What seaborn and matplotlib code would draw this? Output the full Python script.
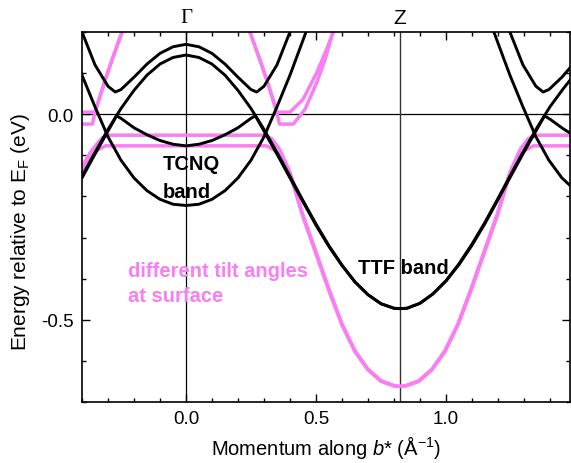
import matplotlib
matplotlib.use("Agg")
import matplotlib.pyplot as plt
import matplotlib.transforms as mtransforms
from matplotlib.ticker import MultipleLocator
import seaborn as sns

# -----------------------------
# BAND DATA
# k in 1/Angstrom, E in eV relative to E_F
# -----------------------------

k_gamma = 0.0
k_z = 0.823

# TTF band (inner dome at Gamma, minimum at Z)
k_ttf = [-0.40, -0.35, -0.30, -0.25, -0.20, -0.15, -0.10, -0.05, 0.00, 0.05, 0.10, 0.15,
         0.20, 0.25, 0.30, 0.35, 0.40, 0.45, 0.50, 0.55, 0.60, 0.65, 0.70, 0.75, 0.80, 0.823,
         0.85, 0.90, 0.95, 1.00, 1.05, 1.10, 1.15, 1.20, 1.25, 1.30, 1.35, 1.40, 1.45, 1.48]
e_ttf = [-0.151, -0.093, -0.037, 0.014, 0.058, 0.095, 0.122, 0.138, 0.144, 0.138, 0.122, 0.095,
         0.058, 0.014, -0.037, -0.093, -0.151, -0.210, -0.267, -0.320, -0.367, -0.408, -0.439,
         -0.461, -0.472, -0.473, -0.472, -0.460, -0.437, -0.405, -0.364, -0.316, -0.263, -0.205,
         -0.146, -0.088, -0.033, 0.018, 0.061, 0.085]

# lower hybrid branch (TCNQ-like at Gamma, TTF-like towards Z)
k_hyb_lo = [-0.40, -0.35, -0.30, -0.267, -0.25, -0.20, -0.15, -0.10, -0.05, 0.00, 0.05, 0.10,
            0.15, 0.20, 0.25, 0.267, 0.30, 0.35, 0.40, 0.45, 0.50, 0.55, 0.60, 0.65, 0.70, 0.75,
            0.80, 0.823, 0.85, 0.90, 0.95, 1.00, 1.05, 1.10, 1.15, 1.20, 1.25, 1.30, 1.346, 1.379,
            1.40, 1.45, 1.48]
e_hyb_lo = [-0.155, -0.097, -0.041, -0.004, -0.010, -0.033, -0.050, -0.064, -0.073, -0.077,
            -0.073, -0.064, -0.050, -0.033, -0.010, -0.004, -0.041, -0.097, -0.155, -0.213,
            -0.270, -0.322, -0.368, -0.408, -0.439, -0.461, -0.472, -0.473, -0.472, -0.460,
            -0.437, -0.406, -0.366, -0.319, -0.266, -0.208, -0.150, -0.092, -0.041, -0.004,
            -0.012, -0.035, -0.047]

# upper hybrid branch (TTF-like at Gamma, TCNQ-like above the gap)
k_hyb_up = [-0.42, -0.40, -0.35, -0.30, -0.272, -0.25, -0.20, -0.15, -0.10, -0.05, 0.00, 0.05,
            0.10, 0.15, 0.20, 0.25, 0.272, 0.30, 0.35, 0.40, 0.42]
e_hyb_up = [0.235, 0.200, 0.120, 0.068, 0.054, 0.060, 0.090, 0.122, 0.148, 0.164, 0.170, 0.164,
            0.148, 0.122, 0.090, 0.060, 0.054, 0.068, 0.120, 0.200, 0.235]
k_hyb_up_r = [1.226, 1.246, 1.296, 1.346, 1.374, 1.396, 1.446, 1.48]
e_hyb_up_r = [0.235, 0.200, 0.120, 0.068, 0.054, 0.060, 0.090, 0.115]

# lower TCNQ band (minimum at Gamma)
k_tcnq = [-0.47, -0.45, -0.40, -0.35, -0.30, -0.25, -0.20, -0.15, -0.10, -0.05, 0.00, 0.05,
          0.10, 0.15, 0.20, 0.25, 0.30, 0.35, 0.40, 0.45, 0.47]
e_tcnq = [0.215, 0.180, 0.095, 0.018, -0.055, -0.112, -0.155, -0.186, -0.207, -0.219, -0.222,
          -0.219, -0.207, -0.186, -0.155, -0.112, -0.055, 0.018, 0.095, 0.180, 0.215]
k_tcnq_r = [1.176, 1.196, 1.246, 1.296, 1.346, 1.396, 1.446, 1.48]
e_tcnq_r = [0.215, 0.180, 0.095, 0.018, -0.055, -0.112, -0.155, -0.175]

# surface bands, two tilt angles (pink)
k_surf1 = [-0.40, -0.37, -0.34, -0.32, -0.30, 0.00, 0.30, 0.33, 0.36, 0.40, 0.45, 0.50, 0.55,
           0.60, 0.65, 0.70, 0.75, 0.80, 0.823, 0.846, 0.896, 0.946, 0.996, 1.046, 1.096, 1.146,
           1.196, 1.246, 1.286, 1.316, 1.346, 1.48]
e_surf1 = [-0.128, -0.095, -0.070, -0.057, -0.051, -0.051, -0.051, -0.060, -0.085, -0.141,
           -0.245, -0.335, -0.425, -0.510, -0.575, -0.620, -0.648, -0.660, -0.662, -0.660,
           -0.648, -0.620, -0.575, -0.510, -0.425, -0.335, -0.245, -0.141, -0.085, -0.060,
           -0.051, -0.051]
k_surf2 = [-0.40, -0.37, -0.34, -0.31, 0.00, 0.31, 0.34, 0.37, 0.40, 0.45, 0.50, 0.55, 0.60,
           0.65, 0.70, 0.75, 0.80, 0.823, 0.846, 0.896, 0.946, 0.996, 1.046, 1.096, 1.146, 1.196,
           1.246, 1.276, 1.306, 1.336, 1.48]
e_surf2 = [-0.140, -0.105, -0.087, -0.077, -0.077, -0.077, -0.087, -0.105, -0.145, -0.250,
           -0.340, -0.430, -0.513, -0.578, -0.622, -0.650, -0.661, -0.662, -0.661, -0.650,
           -0.622, -0.578, -0.513, -0.430, -0.340, -0.250, -0.145, -0.105, -0.087, -0.077,
           -0.077]

# surface TCNQ-like pockets above E_F
k_surf3_l = [-0.40, -0.35, -0.31, -0.28, -0.246, -0.23]
e_surf3_l = [0.005, 0.005, 0.085, 0.140, 0.200, 0.230]
k_surf4_l = [-0.40, -0.36, -0.35, -0.31, -0.28, -0.246, -0.23]
e_surf4_l = [-0.024, -0.024, 0.005, 0.085, 0.140, 0.200, 0.230]
k_surf3_r = [0.23, 0.246, 0.28, 0.31, 0.34, 0.35, 0.40, 0.45, 0.503, 0.541, 0.567, 0.58]
e_surf3_r = [0.230, 0.200, 0.140, 0.085, 0.025, 0.005, 0.005, 0.036, 0.101, 0.158, 0.200, 0.220]
k_surf4_r = [0.23, 0.246, 0.28, 0.31, 0.34, 0.36, 0.413, 0.458, 0.503, 0.535, 0.565, 0.58]
e_surf4_r = [0.230, 0.200, 0.140, 0.085, 0.025, -0.024, -0.024, 0.012, 0.077, 0.133, 0.200, 0.225]

black_curves = [(k_ttf, e_ttf), (k_hyb_lo, e_hyb_lo), (k_hyb_up, e_hyb_up),
                (k_hyb_up_r, e_hyb_up_r), (k_tcnq, e_tcnq), (k_tcnq_r, e_tcnq_r)]
pink_curves = [(k_surf1, e_surf1), (k_surf2, e_surf2), (k_surf3_l, e_surf3_l),
               (k_surf4_l, e_surf4_l), (k_surf3_r, e_surf3_r), (k_surf4_r, e_surf4_r)]

pink = "#f77ef3"

# -----------------------------
# PLOT
# -----------------------------

sns.set_theme(style="ticks")
plt.rcParams["font.family"] = ["Liberation Sans", "DejaVu Sans"]
plt.rcParams["mathtext.fontset"] = "custom"
plt.rcParams["mathtext.rm"] = "Liberation Sans"
plt.rcParams["mathtext.it"] = "Liberation Sans:italic"
for key in ["text.color", "axes.labelcolor", "xtick.color", "ytick.color", "axes.edgecolor"]:
    plt.rcParams[key] = "black"

fig = plt.figure(figsize=(5.71, 4.64), dpi=100)
ax = fig.add_axes([0.1436, 0.1315, 0.8546, 0.7974])

# reference lines (E_F, Gamma, Z)
ax.axhline(0, color="black", lw=0.9, zorder=1)
ax.axvline(k_gamma, color="black", lw=0.9, zorder=1)
ax.axvline(k_z, color="#333333", lw=1.0, zorder=1)

for k, e in pink_curves:
    sns.lineplot(x=k, y=e, ax=ax, color=pink, lw=2.5, sort=False, estimator=None, zorder=2)

for k, e in black_curves:
    sns.lineplot(x=k, y=e, ax=ax, color="black", lw=2.1, sort=False, estimator=None, zorder=3)

ax.set_xlim(-0.40, 1.477)
ax.set_ylim(-0.70, 0.20)

ax.set_xticks([0.0, 0.5, 1.0])
ax.set_xticklabels(["0.0", "0.5", "1.0"])
ax.set_yticks([-0.5, 0.0])
ax.set_yticklabels(["-0.5", "0.0"])
ax.xaxis.set_minor_locator(MultipleLocator(0.1))
ax.yaxis.set_minor_locator(MultipleLocator(0.1))
ax.tick_params(which="both", direction="in", top=True, right=True, width=1.0, color="black")
ax.tick_params(which="major", length=6, labelsize=13.5, pad=6)
ax.tick_params(which="minor", length=3)
for s in ax.spines.values():
    s.set_linewidth(1.2)

ax.set_xlabel("Momentum along $b$* (Å$^{-1}$)", fontsize=14.5, labelpad=4)
ax.set_ylabel("Energy relative to E$_\\mathrm{F}$ (eV)", fontsize=15)
ax.yaxis.set_label_coords(-0.103, 0.462)

# high symmetry points above the frame
trans = mtransforms.blended_transform_factory(ax.transData, ax.transAxes)
ax.text(k_gamma, 1.038, "Γ", transform=trans, ha="center", va="center", fontsize=15,
        family="Liberation Serif")
ax.text(k_z, 1.04, "Z", transform=trans, ha="center", va="center", fontsize=15)

# annotations
ax.text(-0.088, -0.121, "TCNQ", fontsize=14.5, fontweight="bold", ha="left", va="center")
ax.text(-0.088, -0.187, "band", fontsize=14.5, fontweight="bold", ha="left", va="center")
ax.text(0.662, -0.372, "TTF band", fontsize=14.5, fontweight="bold", ha="left", va="center")
ax.text(-0.223, -0.380, "different tilt angles", fontsize=14.5, fontweight="bold",
        color=pink, ha="left", va="center")
ax.text(-0.223, -0.441, "at surface", fontsize=14.5, fontweight="bold",
        color=pink, ha="left", va="center")

plt.savefig("out.png", dpi=100)
